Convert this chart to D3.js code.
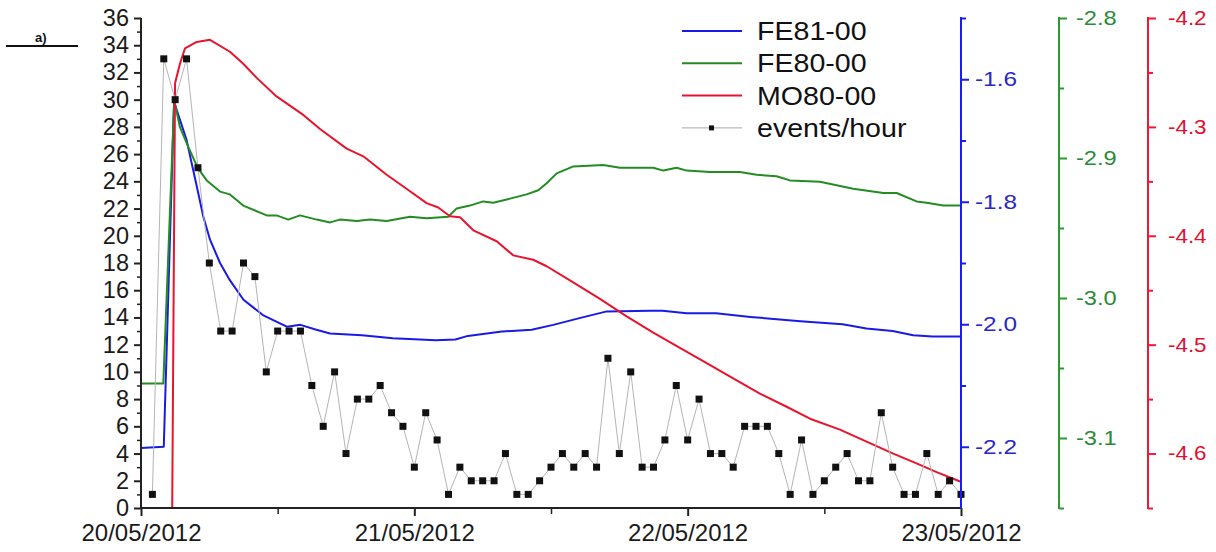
<!DOCTYPE html>
<html>
<head>
<meta charset="utf-8">
<script src="https://cdn.jsdelivr.net/npm/d3@7"></script>
<style>
  html, body { margin: 0; padding: 0; background: #fff; }
  svg { display: block; font-family: "Liberation Sans", Arial, sans-serif; }
</style>
</head>
<body>
<svg id="chart" width="1216" height="552"></svg>
<script>
// Time offsets are hours after 20/05/2012 00:00 (UTC).

// events/hour (left axis), one value per hour 1..72
const eventHours = d3.range(1, 73);
const eventCounts = [1,33,30,33,25,18,13,13,18,17,10,13,13,13,9,6,
  10,4,8,8,9,7,6,3,7,5,1,3,2,2,2,4,1,1,2,3,4,3,4,3,
  11,4,10,3,3,5,9,5,8,4,4,3,6,6,6,4,1,5,1,2,3,4,2,2,7,3,1,1,4,1,2,1];

// FE81-00 (blue right axis)
const fe81Hours = [0,2.0,2.9,4.0,4.45,4.9,5.47,6.06,6.94,7.8,9.0,10.7,12.8,14.0,15.4,16.6,19.4,22.1,25.9,27.6,28.7,31.7,34.3,36.2,38.5,40.9,44.7,45.8,47.9,50.5,53.5,57.9,61.6,63.7,66.0,67.8,69.5,72];
const fe81Values = [-2.202,-2.200,-1.637,-1.699,-1.737,-1.775,-1.824,-1.862,-1.900,-1.928,-1.960,-1.985,-2.004,-2.001,-2.009,-2.015,-2.018,-2.023,-2.026,-2.025,-2.019,-2.012,-2.009,-2.001,-1.990,-1.979,-1.978,-1.978,-1.982,-1.982,-1.988,-1.995,-2.000,-2.007,-2.011,-2.018,-2.020,-2.020];

// FE80-00 (green right axis)
const fe80Hours = [0,1.96,2.92,3.42,4.15,4.98,5.77,6.94,7.81,8.98,11.04,11.91,12.93,13.96,15.43,16.6,17.47,18.94,20.11,21.58,23.62,25.08,26.98,27.72,28.88,30.05,30.93,32.4,33.86,34.88,35.62,36.5,37.96,40.59,42.05,43.81,44.98,45.86,47.03,47.91,49.96,52.59,54.06,55.81,56.98,59.61,62.54,65.17,66.35,68.1,68.98,70.44,72];
const fe80Values = [-3.061,-3.061,-2.859,-2.878,-2.892,-2.907,-2.916,-2.924,-2.926,-2.934,-2.941,-2.941,-2.944,-2.941,-2.944,-2.946,-2.944,-2.945,-2.944,-2.945,-2.942,-2.943,-2.942,-2.936,-2.934,-2.931,-2.932,-2.929,-2.926,-2.923,-2.918,-2.911,-2.906,-2.905,-2.907,-2.907,-2.907,-2.909,-2.907,-2.909,-2.910,-2.910,-2.912,-2.913,-2.916,-2.917,-2.922,-2.925,-2.925,-2.931,-2.932,-2.934,-2.934];

// MO80-00 (red right axis)
const mo80Hours = [2.74,2.99,3.42,3.86,4.89,6.06,7.81,8.98,10.16,11.9,14.25,15.72,18.06,19.52,21.57,23.47,25.08,26.1,27.13,28.01,29.18,31.23,32.69,34.44,35.62,37.52,40.3,42.64,44.98,47.32,49.67,52.0,54.34,56.69,58.74,61.37,63.71,66.05,68.1,69.86,71.76,72];
const mo80Values = [-4.650,-4.260,-4.242,-4.228,-4.222,-4.220,-4.231,-4.242,-4.255,-4.272,-4.289,-4.302,-4.320,-4.327,-4.344,-4.358,-4.370,-4.374,-4.382,-4.383,-4.395,-4.405,-4.418,-4.422,-4.428,-4.440,-4.458,-4.474,-4.489,-4.503,-4.517,-4.531,-4.545,-4.557,-4.568,-4.578,-4.589,-4.600,-4.609,-4.617,-4.625,-4.626];

// Axis ticks
const dayTicks = [0, 24, 48, 72];
const halfDayTicks = [12, 36, 60];
const leftMajor = d3.range(0, 37, 2);
const leftMinor = d3.range(1, 36, 2);
const blueMajor = [-2.2, -2.0, -1.8, -1.6];
const blueMinor = [-2.1, -1.9, -1.7, -1.5];
const greenMajor = [-3.1, -3.0, -2.9, -2.8];
const greenMinor = [-3.15, -3.05, -2.95, -2.85];
const redMajor = [-4.6, -4.5, -4.4, -4.3, -4.2];
const redMinor = [-4.65, -4.55, -4.45, -4.35, -4.25];

const legendItems = [
  { label: "FE81-00", color: "#1a1ae6", marker: false },
  { label: "FE80-00", color: "#238c23", marker: false },
  { label: "MO80-00", color: "#e8142e", marker: false },
  { label: "events/hour", color: "#a8a8a8", marker: true }
];

const START = Date.UTC(2012, 4, 20);
const toDate = h => new Date(START + h * 3600e3);

const svg = d3.select("#chart");
const plotTop = 18, plotBottom = 508, plotLeft = 141, plotRight = 961;

const x = d3.scaleUtc().domain([toDate(0), toDate(72)]).range([plotLeft, plotRight]);
const yL = d3.scaleLinear().domain([0, 36]).range([plotBottom, plotTop]);
const yB = d3.scaleLinear().domain([-2.3, -1.5]).range([plotBottom, plotTop]);
const yG = d3.scaleLinear().domain([-3.15, -2.8]).range([plotBottom, plotTop]);
const yR = d3.scaleLinear().domain([-4.65, -4.2]).range([plotBottom, plotTop]);

const fmt1 = v => v.toFixed(1);
const fmtDate = d3.utcFormat("%d/%m/%Y");

// ---- series lines ----
function drawSeries(hours, values, yScale, color, width) {
  const pts = hours.map((h, i) => [x(toDate(h)), yScale(values[i])]);
  svg.append("path")
    .attr("d", d3.line()(pts))
    .attr("fill", "none")
    .attr("stroke", color)
    .attr("stroke-width", width)
    .attr("stroke-linejoin", "round");
}
drawSeries(fe81Hours, fe81Values, yB, "#1a1ae6", 2);
drawSeries(fe80Hours, fe80Values, yG, "#238c23", 2);
drawSeries(mo80Hours, mo80Values, yR, "#e8142e", 2);

// events/hour: thin grey polyline with square markers
svg.append("path")
  .attr("d", d3.line()(eventHours.map((h, i) => [x(toDate(h)), yL(eventCounts[i])])))
  .attr("fill", "none")
  .attr("stroke", "#b4b4b4")
  .attr("stroke-width", 1);
svg.append("g").selectAll("rect")
  .data(eventHours)
  .join("rect")
  .attr("x", (h) => x(toDate(h)) - 3.5)
  .attr("y", (h, i) => yL(eventCounts[i]) - 3.5)
  .attr("width", 7)
  .attr("height", 7)
  .attr("fill", "#111");

// ---- axes ----
function styleAxis(g, color, width) {
  g.select(".domain").remove();
  g.selectAll(".tick line").attr("stroke", color).attr("stroke-width", width);
}

// left axis
const gL = svg.append("g").attr("transform", `translate(${plotLeft},0)`);
gL.call(d3.axisLeft(yL).tickValues(leftMajor).tickSize(7).tickPadding(5).tickSizeOuter(0))
  .call(g => styleAxis(g, "#222", 2));
gL.append("g").call(d3.axisLeft(yL).tickValues(leftMinor).tickSize(4).tickFormat("").tickSizeOuter(0))
  .call(g => styleAxis(g, "#222", 1.5));
gL.selectAll(".tick text").attr("fill", "#1a1a1a").attr("font-size", 23.5);
gL.append("line").attr("x1", 0).attr("x2", 0).attr("y1", plotTop).attr("y2", plotBottom + 1)
  .attr("stroke", "#222").attr("stroke-width", 2);

// bottom axis
const gX = svg.append("g").attr("transform", `translate(0,${plotBottom})`);
gX.call(d3.axisBottom(x).tickValues(dayTicks.map(toDate)).tickFormat(fmtDate).tickSize(8).tickPadding(8).tickSizeOuter(0))
  .call(g => styleAxis(g, "#222", 2));
gX.append("g").call(d3.axisBottom(x).tickValues(halfDayTicks.map(toDate)).tickSize(6).tickFormat("").tickSizeOuter(0))
  .call(g => styleAxis(g, "#222", 1.5));
gX.selectAll(".tick text").attr("fill", "#1a1a1a").attr("font-size", 24);
gX.append("line").attr("x1", plotLeft - 1).attr("x2", plotRight).attr("y1", 0).attr("y2", 0)
  .attr("stroke", "#222").attr("stroke-width", 2);

// right-hand value axes (labels are drawn slightly widened)
function rightAxis(xPos, scale, major, minor, axisColor, textColor, offset, stretch) {
  const g = svg.append("g").attr("transform", `translate(${xPos},0)`);
  g.call(d3.axisRight(scale).tickValues(major).tickSize(8).tickFormat(fmt1).tickSizeOuter(0))
    .call(a => styleAxis(a, axisColor, 2));
  g.append("g").call(d3.axisRight(scale).tickValues(minor).tickSize(5).tickFormat("").tickSizeOuter(0))
    .call(a => styleAxis(a, axisColor, 2));
  g.selectAll(".tick text")
    .attr("x", null)
    .attr("fill", textColor)
    .attr("font-size", 20)
    .attr("transform", `translate(${offset},0) scale(${stretch},1)`);
  g.append("line").attr("x1", 0).attr("x2", 0).attr("y1", plotTop - 1).attr("y2", plotBottom + 1)
    .attr("stroke", axisColor).attr("stroke-width", 2);
}
rightAxis(plotRight, yB, blueMajor, blueMinor, "#1a1aff", "#2828c8", 14, 1.22);
rightAxis(1059, yG, greenMajor, greenMinor, "#2c9a2c", "#2a8a3a", 17, 1.18);
rightAxis(1148, yR, redMajor, redMinor, "#ee1838", "#e01030", 20, 1.12);

// ---- legend ----
const legend = svg.append("g");
legendItems.forEach((d, i) => {
  const yy = 31 + i * 32.3;
  legend.append("line")
    .attr("x1", 682).attr("x2", 742).attr("y1", yy).attr("y2", yy)
    .attr("stroke", d.color).attr("stroke-width", d.marker ? 1 : 2);
  if (d.marker) {
    legend.append("rect").attr("x", 709).attr("y", yy - 2.5).attr("width", 5).attr("height", 5).attr("fill", "#111");
  }
  legend.append("text")
    .attr("transform", `translate(757,${yy}) scale(1.1,1)`)
    .attr("dy", "0.35em")
    .attr("font-size", 26)
    .attr("fill", "#111")
    .text(d.label);
});

// ---- panel tag ----
svg.append("text").attr("x", 35).attr("y", 42)
  .attr("font-size", 13).attr("font-weight", "bold").attr("fill", "#111").text("a)");
svg.append("line").attr("x1", 6).attr("x2", 78).attr("y1", 46).attr("y2", 46)
  .attr("stroke", "#111").attr("stroke-width", 2);
</script>
</body>
</html>
